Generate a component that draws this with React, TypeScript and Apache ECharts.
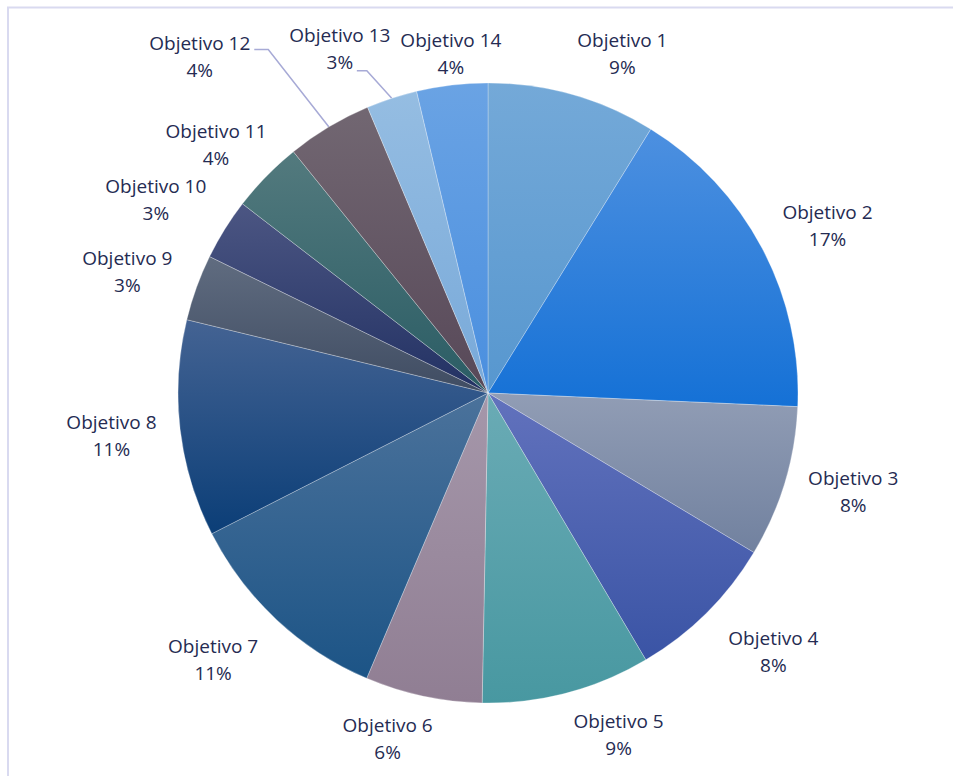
import React, { useEffect, useRef } from 'react';
import * as echarts from 'echarts';

const categories = [
  'Objetivo 1', 'Objetivo 2', 'Objetivo 3', 'Objetivo 4', 'Objetivo 5',
  'Objetivo 6', 'Objetivo 7', 'Objetivo 8', 'Objetivo 9', 'Objetivo 10',
  'Objetivo 11', 'Objetivo 12', 'Objetivo 13', 'Objetivo 14',
];
const values = [8.8, 16.9, 7.9, 7.9, 8.8, 6.1, 11.1, 11.3, 3.45, 3.2, 3.75, 4.45, 2.65, 3.7];

const colorTop = [
  '#74a9d8', '#4d90e0', '#919db5', '#6272bd', '#6aabb5', '#a597aa', '#4b729b',
  '#446393', '#606c80', '#4c5683', '#537a7e', '#726772', '#95bde2', '#6aa3e4',
];
const colorBottom = [
  '#5797cf', '#1571d6', '#71819f', '#3a54a5', '#4898a1', '#907e93', '#1c5486',
  '#0b3e77', '#3f4c62', '#223163', '#2a5c64', '#574858', '#78a9d9', '#4a8fdf',
];

// layout / style settings
const CENTER = [488, 393];
const RADIUS = 310;
const LABEL_GAP = 20;
const LABEL_NUDGE = [
  [32, 4], [8, 0], [6, -4], [21, 5], [35, -4], [-22, -4], [-19, 5],
  [-4, 1], [-8, 0], [-9, -5], [0, 1], [-93, -30], [-30, -5], [7, 15],
];
const LEADER_INDICES = [11, 12];
const TEXT_COLOR = '#252b52';
const FONT = '"Open Sans", sans-serif';

function midAngle(idx: number): number {
  const total = values.reduce((a, b) => a + b, 0);
  let cum = 0;
  for (let i = 0; i < idx; i++) cum += values[i];
  return ((cum + values[idx] / 2) / total) * Math.PI * 2;
}

export default function App() {
  const ref = useRef<HTMLDivElement>(null);

  useEffect(() => {
    if (!ref.current) return;
    const chart = echarts.init(ref.current, undefined, { renderer: 'svg' });
    const total = values.reduce((a, b) => a + b, 0);

    const data = values.map((v, i) => ({
      name: categories[i],
      value: v,
      itemStyle: {
        color: new echarts.graphic.LinearGradient(0, 0, 0, 1, [
          { offset: 0, color: colorTop[i] },
          { offset: 1, color: colorBottom[i] },
        ]),
      },
      labelLine: { show: LEADER_INDICES.includes(i) },
    }));

    chart.setOption({
      animation: false,
      backgroundColor: '#ffffff',
      graphic: [
        {
          type: 'rect',
          silent: true,
          z: -10,
          shape: { x: 8, y: 7.5, width: 1200, height: 1200 },
          style: { fill: 'none', stroke: '#d9daf0', lineWidth: 2 },
        },
      ],
      series: [
        {
          type: 'pie',
          center: CENTER,
          radius: RADIUS,
          startAngle: 90,
          clockwise: true,
          avoidLabelOverlap: false,
          itemStyle: { borderColor: 'rgba(255,255,255,0.35)', borderWidth: 0.8 },
          label: {
            show: true,
            position: 'outside',
            color: TEXT_COLOR,
            fontFamily: FONT,
            fontSize: 19,
            lineHeight: 27,
            align: 'center',
            formatter: (p: any) => `${p.name}\n${Math.round((p.value / total) * 100)}%`,
          },
          labelLine: {
            show: false,
            length: 10,
            length2: 10,
            lineStyle: { color: '#a7aad6', width: 1.5 },
          },
          emphasis: { disabled: true },
          labelLayout: (params: any) => {
            const i = params.dataIndex;
            const a = midAngle(i);
            const ux = Math.sin(a);
            const uy = -Math.cos(a);
            const w = params.labelRect.width;
            const h = params.labelRect.height;
            const px = CENTER[0] + (RADIUS + LABEL_GAP) * ux;
            const py = CENTER[1] + (RADIUS + LABEL_GAP) * uy;
            const cx = px + (ux * w) / 2 + LABEL_NUDGE[i][0];
            const cy = py + (uy * h) / 2 + LABEL_NUDGE[i][1];
            const out: any = { x: cx, y: cy, align: 'center', verticalAlign: 'middle' };
            if (LEADER_INDICES.includes(i)) {
              const sx = CENTER[0] + RADIUS * ux;
              const sy = CENTER[1] + RADIUS * uy;
              let ax: number;
              let ay: number;
              let knee: number;
              if (i === 11) {
                ax = cx + w / 2 + 4;
                ay = cy - 7;
                knee = 14;
              } else {
                ax = cx + 17;
                ay = cy + 22;
                knee = 10;
              }
              out.labelLinePoints = [
                [sx, sy],
                [ax + knee, ay],
                [ax, ay],
              ];
            }
            return out;
          },
          data,
        },
      ],
    });

    return () => chart.dispose();
  }, []);

  return (
    <div
      ref={ref}
      style={{ position: 'fixed', left: 0, top: 0, width: 953, height: 776, background: '#fff' }}
    />
  );
}
